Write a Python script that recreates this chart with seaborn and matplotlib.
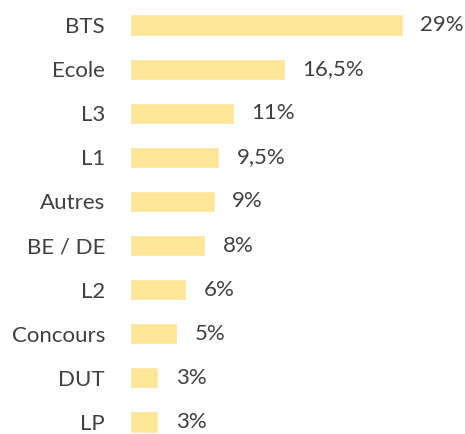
import matplotlib
matplotlib.use("Agg")
import matplotlib.pyplot as plt
import seaborn as sns
import pandas as pd

categories = ["BTS", "Ecole", "L3", "L1", "Autres", "BE / DE", "L2", "Concours", "DUT", "LP"]
values = [29, 16.5, 11, 9.5, 9, 8, 6, 5, 3, 3]
value_labels = ["29%", "16,5%", "11%", "9,5%", "9%", "8%", "6%", "5%", "3%", "3%"]

sns.set_style("white")
plt.rcParams['font.family'] = ['Lato', 'DejaVu Sans']

BAR = "#FEE699"
TXT = "#404040"

df = pd.DataFrame({"cat": categories, "val": values})

fig = plt.figure(figsize=(4.65, 4.34), dpi=100)
ax = fig.add_axes([130 / 465, 0, 335 / 465, 1])
sns.barplot(data=df, x="val", y="cat", orient="h", color=BAR, saturation=1,
            width=0.48, ax=ax)

# row spacing ~44px, first row centred ~25px from the top
ax.set_xlim(0, 335 / 9.41)
ax.set_ylim(9 + 12 / 44.1, -25 / 44.1)
for i, (v, lab) in enumerate(zip(values, value_labels)):
    ax.annotate(lab, (v, i), xytext=(12.5, 0), textcoords="offset points",
                ha="left", va="center", fontsize=16, color=TXT)

ax.set_xlabel("")
ax.set_ylabel("")
ax.set_xticks([])
ax.tick_params(axis="y", length=0, pad=18, labelsize=16, labelcolor=TXT)
sns.despine(ax=ax, left=True, bottom=True)

fig.savefig("out.png", dpi=100)
